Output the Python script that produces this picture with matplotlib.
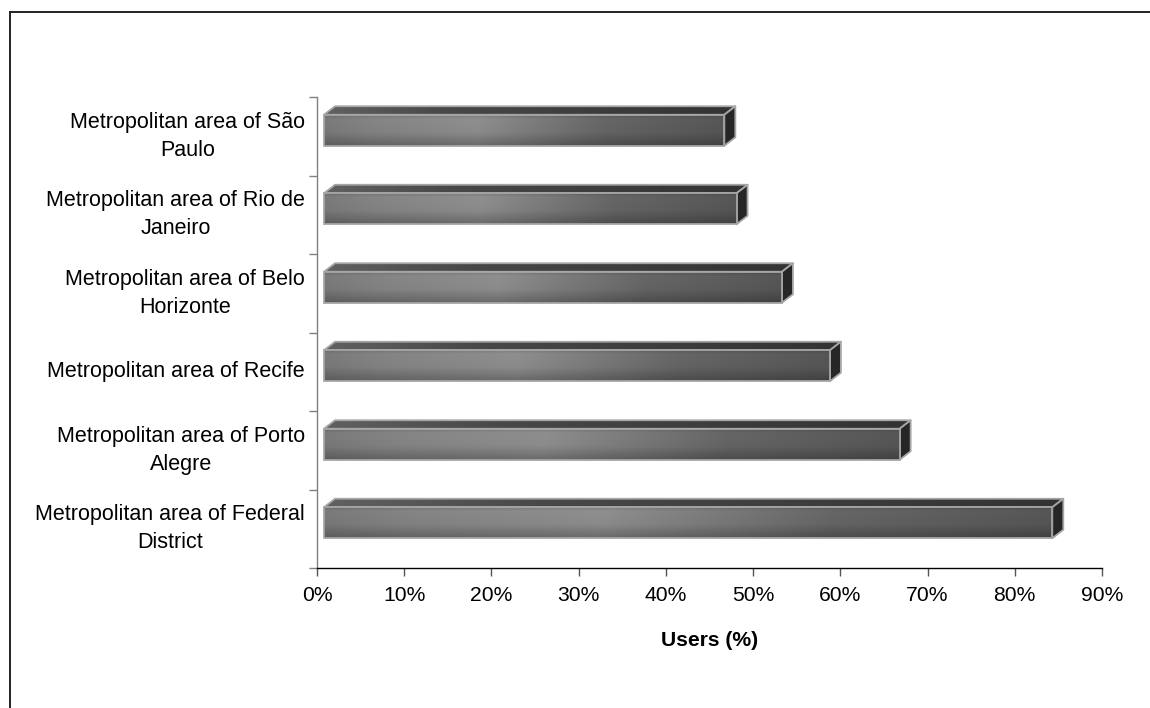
import numpy as np
import matplotlib
matplotlib.use("Agg")
import matplotlib.pyplot as plt
from matplotlib.patches import Polygon, Rectangle
from matplotlib.lines import Line2D
from matplotlib.transforms import offset_copy

# ---- data -------------------------------------------------------------
categories = [
    "Metropolitan area of São\nPaulo",
    "Metropolitan area of Rio de\nJaneiro",
    "Metropolitan area of Belo\nHorizonte",
    "Metropolitan area of Recife",
    "Metropolitan area of Porto\nAlegre",
    "Metropolitan area of Federal\nDistrict",
]
users_pct = [45.9, 47.3, 52.5, 58.0, 66.0, 83.5]
x_ticks = [0, 10, 20, 30, 40, 50, 60, 70, 80, 90]
x_tick_labels = ["0%", "10%", "20%", "30%", "40%", "50%", "60%", "70%", "80%", "90%"]
x_label = "Users (%)"

plt.rcParams["font.family"] = ["Liberation Sans", "DejaVu Sans"]

# ---- figure / axes geometry (pixels) ----------------------------------
W, H, DPI = 1150, 708, 100
fig = plt.figure(figsize=(W / DPI, H / DPI), dpi=DPI)
L, R, T, B = 317, 1102, 97, 568
ax = fig.add_axes([L / W, 1 - B / H, (R - L) / W, (B - T) / H])

n = len(categories)
xmax = x_ticks[-1]
px_x = xmax / (R - L)          # data units per pixel (x)
px_y = n / (B - T)             # data units per pixel (y)

# 3-D box style
x_start = 7 * px_x             # front face begins slightly right of the axis
face_top = 21.5 * px_y         # front face extent above band centre
face_bot = 9.5 * px_y          # front face extent below band centre
ddx = 11 * px_x                # depth offset (right)
ddy = -8.5 * px_y              # depth offset (up, axis inverted)
edge = "#a6a6a6"
elw = 1.3

# front face shading
nx, ny = 300, 60
t = np.linspace(0, 1, nx)
s = np.linspace(0, 1, ny)
h_prof = np.interp(t, [0, 0.12, 0.38, 0.7, 1.0], [0.48, 0.52, 0.56, 0.40, 0.34])
v_prof = np.interp(s, [0, 0.12, 0.55, 1.0], [0.88, 1.0, 0.97, 0.74])
front_img = np.clip(v_prof[:, None] * h_prof[None, :], 0, 1)
front_rgb = np.dstack([front_img] * 3)

# top face shading
top_prof = np.interp(t, [0, 0.3, 1.0], [0.38, 0.28, 0.20])
top_rgb = np.dstack([np.tile(top_prof, (10, 1))] * 3)

for i, v in enumerate(users_pct):
    x0, x1 = x_start, x_start + v
    yt, yb = i - face_top, i + face_bot

    # top face
    top_poly = Polygon([(x0, yt), (x1, yt), (x1 + ddx, yt + ddy), (x0 + ddx, yt + ddy)],
                       closed=True, facecolor="none", edgecolor=edge, lw=elw, zorder=4,
                       joinstyle="round")
    ax.add_patch(top_poly)
    im = ax.imshow(top_rgb, extent=(x0, x1 + ddx, yt, yt + ddy), origin="upper",
                   aspect="auto", interpolation="bilinear", zorder=3)
    im.set_clip_path(top_poly)

    # end face
    end_poly = Polygon([(x1, yt), (x1 + ddx, yt + ddy), (x1 + ddx, yb + ddy), (x1, yb)],
                       closed=True, facecolor="#262626", edgecolor=edge, lw=elw, zorder=4,
                       joinstyle="round")
    ax.add_patch(end_poly)

    # front face
    front = Rectangle((x0, yt), v, yb - yt, facecolor="none", edgecolor=edge,
                      lw=elw, zorder=5)
    ax.add_patch(front)
    im = ax.imshow(front_rgb, extent=(x0, x1, yb, yt), origin="upper",
                   aspect="auto", interpolation="bilinear", zorder=4.5)
    im.set_clip_path(front)

# ---- axes styling -----------------------------------------------------
ax.set_xlim(0, xmax)
ax.set_ylim(n - 0.5, -0.5)

ax.spines["top"].set_visible(False)
ax.spines["right"].set_visible(False)
ax.spines["left"].set_color("#808080")
ax.spines["left"].set_linewidth(1.0)
ax.spines["bottom"].set_color("black")
ax.spines["bottom"].set_linewidth(1.0)

ax.set_xticks(x_ticks)
ax.set_xticklabels(x_tick_labels, fontsize=15.2)
ax.tick_params(axis="x", direction="out", length=5.8, width=1.0, color="#555555",
               pad=7, labelcolor="black")

# category boundaries carry the y ticks; names are centred in each band
ax.set_yticks(np.arange(-0.5, n, 1.0))
ax.set_yticklabels([])
ax.tick_params(axis="y", length=5.8, width=1.0, color="#808080", direction="out")

label_tr = offset_copy(ax.get_yaxis_transform(), fig=fig, x=-12, y=0, units="dots")
for i, name in enumerate(categories):
    ax.text(0, i, name, transform=label_tr, ha="right", va="center", ma="center",
            fontsize=15.5, linespacing=1.45, clip_on=False)

ax.set_xlabel(x_label, fontsize=15.2, fontweight="bold", labelpad=19)

# outer frame (top and left edges)
fig.add_artist(Line2D([10 / W, 1], [1 - 12 / H, 1 - 12 / H], transform=fig.transFigure,
                      color="#222222", lw=1.4))
fig.add_artist(Line2D([10 / W, 10 / W], [1 - 12 / H, 0], transform=fig.transFigure,
                      color="#222222", lw=1.4))

fig.savefig("out.png", dpi=DPI)
